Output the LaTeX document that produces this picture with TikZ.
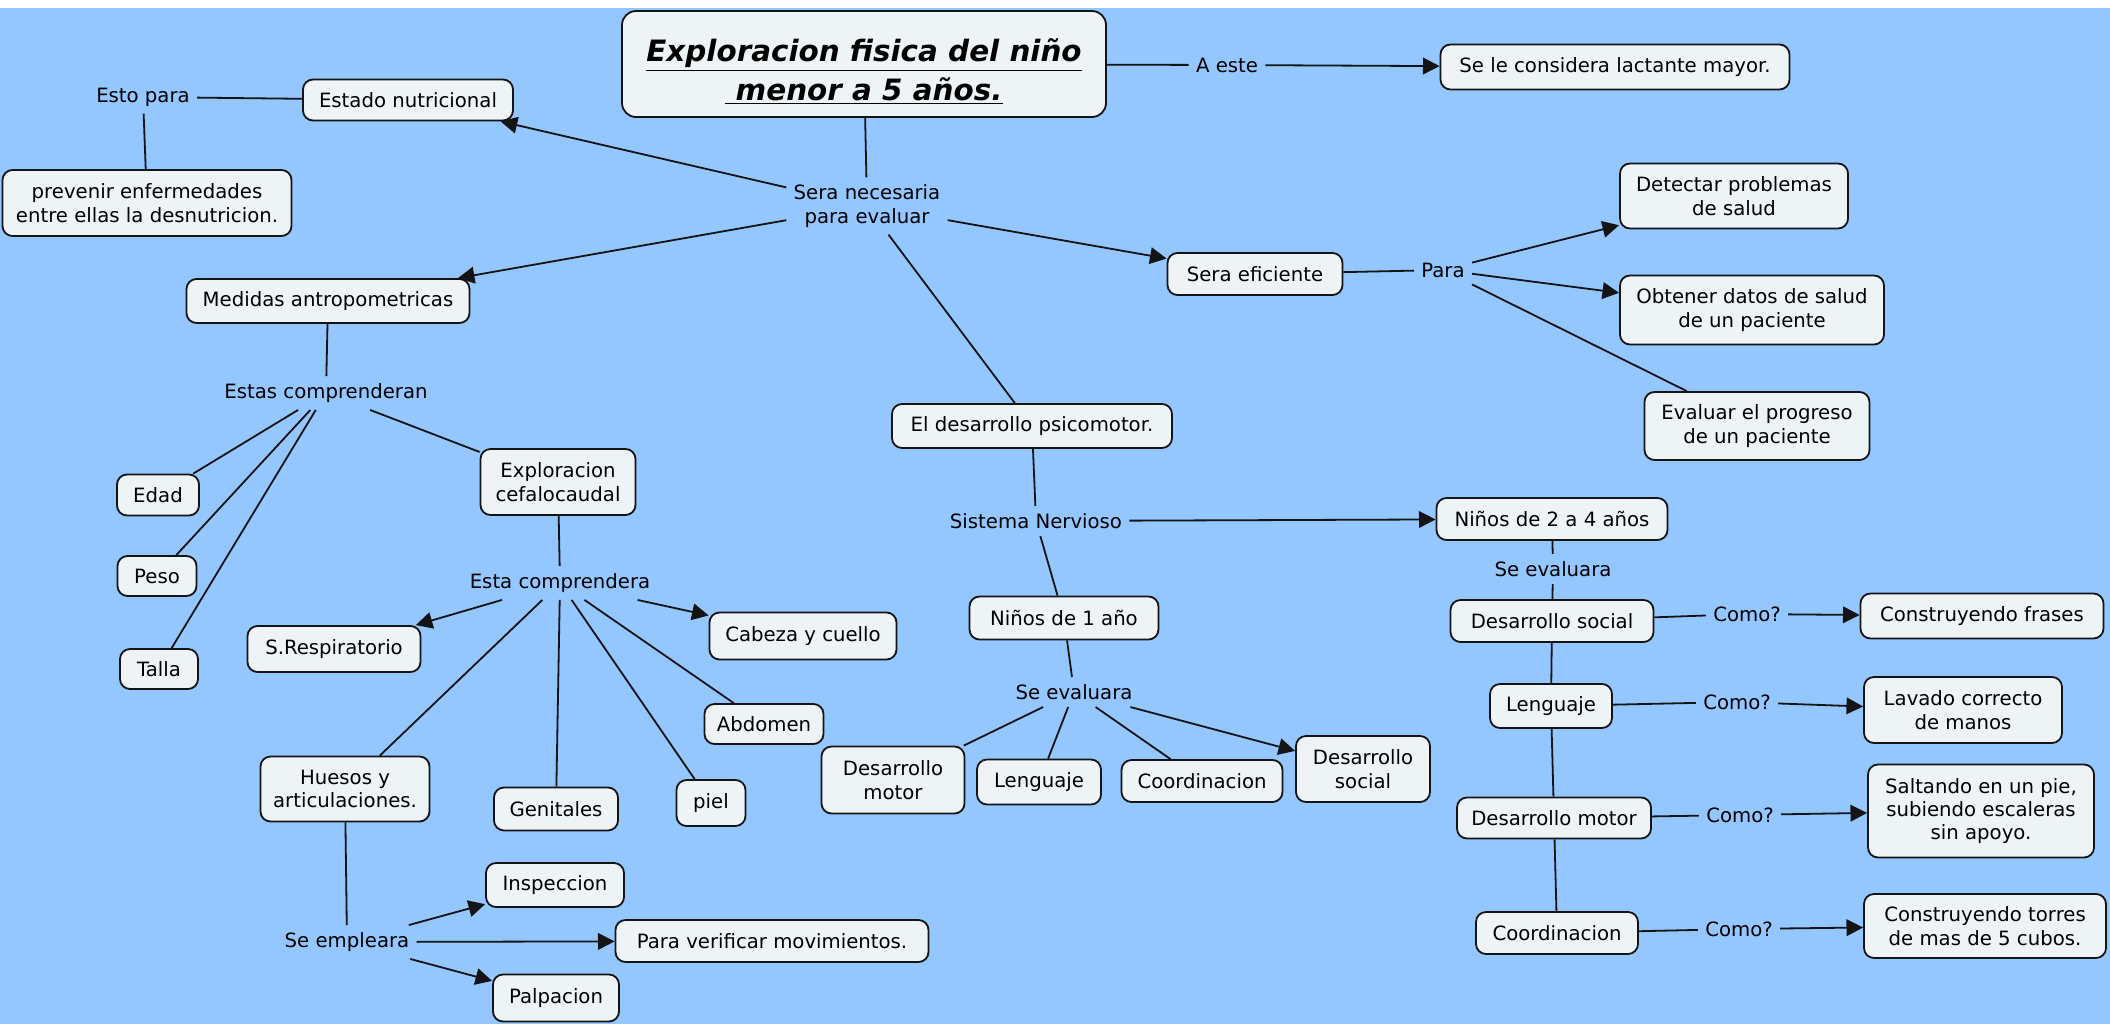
\documentclass[tikz,border=0pt]{standalone}
\usepackage{fontspec}
\setmainfont{DejaVu Sans}
\usetikzlibrary{arrows.meta}
\definecolor{bg}{RGB}{148,198,255}
\definecolor{boxfill}{RGB}{238,244,246}
\definecolor{ink}{RGB}{20,20,20}
\begin{document}
\begin{tikzpicture}[x=0.5pt,y=-0.5pt,
  every node/.style={font=\fontsize{9.85pt}{11.7pt}\selectfont, text=black},
  box/.style={draw=ink, line width=0.9pt, fill=boxfill, rounded corners=5pt, align=center, inner sep=2pt},
  lbl/.style={align=center, inner xsep=3.5pt, inner ysep=3.5pt},
  sz/.style 2 args={minimum width=#1*0.5pt, minimum height=#2*0.5pt},
  link/.style={draw=ink, line width=0.9pt},
  arr/.style={link, -{Triangle[length=8.3pt,width=8.3pt]}},
]
\useasboundingbox (0,0) rectangle (2110,1024);
\fill[white] (0,0) rectangle (2110,8);
\fill[bg] (0,8) rectangle (2110,1024);

% nodes
\node[box, sz={484}{106}, rounded corners=7pt, font=\fontsize{14.7pt}{19.5pt}\selectfont\bfseries\itshape] (title) at (864,64) {\rule{0pt}{19pt}\underline{Exploracion fisica del niño}\\\underline{\ menor a 5 años.}};
\node[lbl] (aeste) at (1227,65) {A este};
\node[box, sz={349}{45}] (lactante) at (1615,67) {Se le considera lactante mayor.};
\node[lbl] (sera) at (867,206) {Sera necesaria\\para evaluar};
\node[box, sz={210}{41}] (estado) at (408,100) {Estado nutricional};
\node[lbl] (estopara) at (143,97) {Esto para};
\node[box, sz={289}{66}] (prevenir) at (147,203) {prevenir enfermedades\\entre ellas la desnutricion.};
\node[box, sz={283}{44}] (medidas) at (328,301) {Medidas antropometricas};
\node[lbl] (estas) at (326,393) {Estas comprenderan};
\node[box, sz={82}{41}] (edad) at (158,495) {Edad};
\node[box, sz={79}{40}] (peso) at (157,576) {Peso};
\node[box, sz={78}{40}] (talla) at (159,669) {Talla};
\node[box, sz={155}{66}] (cefalo) at (558,482) {Exploracion\\cefalocaudal};
\node[lbl] (esta) at (560,583) {Esta comprendera};
\node[box, sz={173}{46}] (resp) at (334,649) {S.Respiratorio};
\node[box, sz={187}{47}] (cabeza) at (803,636) {Cabeza y cuello};
\node[box, sz={119}{40}] (abdomen) at (764,724) {Abdomen};
\node[box, sz={69}{46}] (piel) at (711,803) {piel};
\node[box, sz={124}{43}] (genitales) at (556,809) {Genitales};
\node[box, sz={169}{65}] (huesos) at (345,789) {Huesos y\\articulaciones.};
\node[lbl] (empleara) at (347,942) {Se empleara};
\node[box, sz={138}{44}] (insp) at (555,885) {Inspeccion};
\node[box, sz={313}{42}] (verif) at (772,941) {Para verificar movimientos.};
\node[box, sz={126}{47}] (palp) at (556,998) {Palpacion};
\node[box, sz={280}{44}] (psico) at (1032,426) {El desarrollo psicomotor.};
\node[lbl] (sistema) at (1036,521) {Sistema Nervioso};
\node[box, sz={231}{42}] (ninos24) at (1552,519) {Niños de 2 a 4 años};
\node[box, sz={189}{43}] (ninos1) at (1064,618) {Niños de 1 año};
\node[lbl] (seeval) at (1074,692) {Se evaluara};
\node[box, sz={143}{67}] (dmotor) at (893,780) {Desarrollo\\motor};
\node[box, sz={124}{45}] (leng) at (1039,782) {Lenguaje};
\node[box, sz={161}{42}] (coord) at (1202,781) {Coordinacion};
\node[box, sz={134}{66}] (dsocial) at (1363,769) {Desarrollo\\social};
\node[box, sz={175}{42}] (efic) at (1255,274) {Sera eficiente};
\node[lbl] (para) at (1443,270) {Para};
\node[box, sz={228}{65}] (detect) at (1734,196) {Detectar problemas\\de salud};
\node[box, sz={264}{69}] (obtener) at (1752,310) {Obtener datos de salud\\de un paciente};
\node[box, sz={225}{68}] (evaluar) at (1757,426) {Evaluar el progreso\\de un paciente};
\node[lbl] (seeval2) at (1553,569) {Se evaluara};
\node[box, sz={203}{42}] (dsocial2) at (1552,621) {Desarrollo social};
\node[lbl] (como1) at (1747,614) {Como?};
\node[box, sz={243}{45}] (frases) at (1982,616) {Construyendo frases};
\node[box, sz={122}{44}] (leng2) at (1551,706) {Lenguaje};
\node[lbl] (como2) at (1737,702) {Como?};
\node[box, sz={198}{66}] (lavado) at (1963,710) {Lavado correcto\\de manos};
\node[box, sz={194}{41}] (dmotor2) at (1554,818) {Desarrollo motor};
\node[lbl] (como3) at (1740,815) {Como?};
\node[box, sz={226}{93}] (saltando) at (1981,811) {Saltando en un pie,\\subiendo escaleras\\sin apoyo.};
\node[box, sz={162}{42}] (coord2) at (1557,933) {Coordinacion};
\node[lbl] (como4) at (1739,929) {Como?};
\node[box, sz={242}{64}] (torres) at (1985,926) {Construyendo torres\\de mas de 5 cubos.};

% connectors
\draw[link] (title) -- (aeste);
\draw[arr] (aeste) -- (lactante);
\draw[link] (title) -- (sera);
\draw[arr] (sera) -- (estado);
\draw[arr] (sera) -- (medidas);
\draw[arr] (sera) -- (efic);
\draw[link] (sera) -- (psico);
\draw[link] (estado) -- (estopara);
\draw[link] (estopara) -- (prevenir);
\draw[link] (medidas) -- (estas);
\draw[link] (estas) -- (edad);
\draw[link] (estas) -- (peso);
\draw[link] (estas) -- (talla);
\draw[link] (estas) -- (cefalo);
\draw[link] (cefalo) -- (esta);
\draw[arr] (esta) -- (resp);
\draw[arr] (esta) -- (cabeza);
\draw[link] (esta) -- (abdomen);
\draw[link] (esta) -- (piel);
\draw[link] (esta) -- (genitales);
\draw[link] (esta) -- (huesos);
\draw[link] (huesos) -- (empleara);
\draw[arr] (empleara) -- (insp);
\draw[arr] (empleara) -- (verif);
\draw[arr] (empleara) -- (palp);
\draw[link] (psico) -- (sistema);
\draw[arr] (sistema) -- (ninos24);
\draw[link] (sistema) -- (ninos1);
\draw[link] (ninos1) -- (seeval);
\draw[link] (seeval) -- (dmotor);
\draw[link] (seeval) -- (leng);
\draw[link] (seeval) -- (coord);
\draw[arr] (seeval) -- (dsocial);
\draw[link] (efic) -- (para);
\draw[arr] (para) -- (detect);
\draw[arr] (para) -- (obtener);
\draw[link] (para) -- (evaluar);
\draw[link] (ninos24) -- (seeval2);
\draw[link] (seeval2) -- (dsocial2);
\draw[link] (dsocial2) -- (leng2);
\draw[link] (leng2) -- (dmotor2);
\draw[link] (dmotor2) -- (coord2);
\draw[link] (dsocial2) -- (como1);
\draw[arr] (como1) -- (frases);
\draw[link] (leng2) -- (como2);
\draw[arr] (como2) -- (lavado);
\draw[link] (dmotor2) -- (como3);
\draw[arr] (como3) -- (saltando);
\draw[link] (coord2) -- (como4);
\draw[arr] (como4) -- (torres);
\end{tikzpicture}
\end{document}
